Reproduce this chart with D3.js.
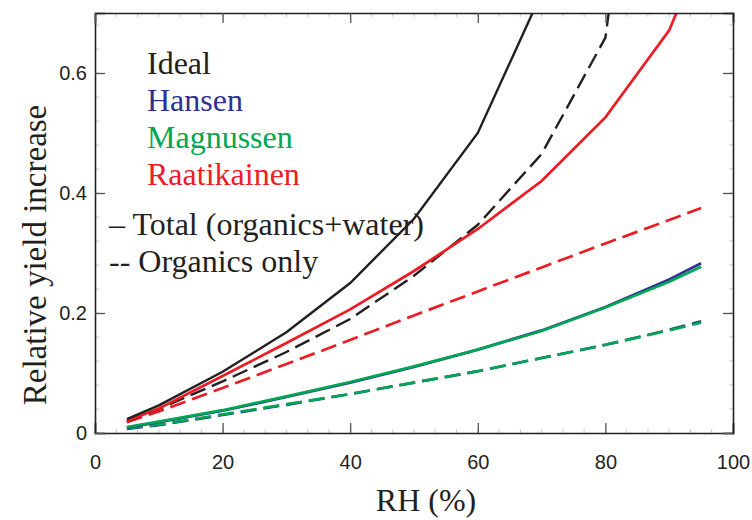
<!DOCTYPE html>
<html>
<head>
<meta charset="utf-8">
<script src="https://cdn.jsdelivr.net/npm/d3@7"></script>
<style>
  body { margin: 0; background: #fff; }
  svg { display: block; }
</style>
</head>
<body>
<div id="chart"></div>
<script>
// RH values (%) where the curves were computed
var rh = [5, 10, 20, 30, 40, 50, 60, 70, 80, 90, 95]

// relative yield increase
var idealTotal    = [0.023, 0.046, 0.102, 0.168, 0.250, 0.357, 0.500, 0.733, 1.05, 1.4, 1.6]
var idealOrganics = [0.019, 0.040, 0.086, 0.135, 0.190, 0.262, 0.347, 0.465, 0.659, 1.45, 1.7]
var hansenTotal    = [0.009, 0.018, 0.037, 0.060, 0.084, 0.110, 0.139, 0.171, 0.210, 0.256, 0.283]
var hansenOrganics = [0.007, 0.013, 0.030, 0.047, 0.065, 0.084, 0.103, 0.125, 0.147, 0.172, 0.186]
var magnussenTotal    = [0.010, 0.019, 0.038, 0.061, 0.085, 0.111, 0.139, 0.170, 0.209, 0.252, 0.277]
var magnussenOrganics = [0.008, 0.014, 0.031, 0.048, 0.065, 0.084, 0.103, 0.125, 0.147, 0.171, 0.184]
var raatTotal    = [0.020, 0.041, 0.095, 0.150, 0.206, 0.270, 0.340, 0.420, 0.526, 0.671, 0.80]
var raatOrganics = [0.018, 0.036, 0.075, 0.115, 0.155, 0.196, 0.236, 0.276, 0.316, 0.355, 0.375]

var xTicks = [0, 20, 40, 60, 80, 100]
var yTicks = [0, 0.2, 0.4, 0.6]

var legendNames = ["Ideal", "Hansen", "Magnussen", "Raatikainen"]
var legendStyles = ["– Total (organics+water)", "-- Organics only"]

var colors = {
  Ideal: "#231f20",
  Hansen: "#2e3192",
  Magnussen: "#00a651",
  Raatikainen: "#ed1c24"
}

var series = [
  {name: "Raatikainen", kind: "organics", values: raatOrganics},
  {name: "Hansen", kind: "organics", values: hansenOrganics},
  {name: "Magnussen", kind: "organics", values: magnussenOrganics},
  {name: "Ideal", kind: "organics", values: idealOrganics},
  {name: "Hansen", kind: "total", values: hansenTotal},
  {name: "Magnussen", kind: "total", values: magnussenTotal},
  {name: "Raatikainen", kind: "total", values: raatTotal},
  {name: "Ideal", kind: "total", values: idealTotal}
]

var width = 752, height = 520
var margin = {top: 13, right: 19, bottom: 87, left: 95}
var ink = "#231f20"
var serif = "Liberation Serif, Times New Roman, serif"

var svg = d3.select("#chart").append("svg")
    .attr("width", width)
    .attr("height", height)

var x = d3.scaleLinear()
    .domain([0, 100])
    .range([margin.left, width - margin.right])

var y = d3.scaleLinear()
    .domain([0, 0.7])
    .range([height - margin.bottom, margin.top])

svg.append("clipPath").attr("id", "plotclip")
  .append("rect")
    .attr("x", x(0)).attr("y", y(0.7))
    .attr("width", x(100) - x(0)).attr("height", y(0) - y(0.7))

// minor ticks, very faint
var xMinor = d3.range(0, 100.01, 20 / 6)
var yMinor = d3.range(0, 0.701, 0.04)
var minor = svg.append("g").attr("stroke", "#c8c8c8").attr("stroke-width", 1)
minor.selectAll(".mxb").data(xMinor).join("line")
    .attr("x1", d => x(d)).attr("x2", d => x(d))
    .attr("y1", y(0)).attr("y2", y(0) - 4)
minor.selectAll(".mxt").data(xMinor).join("line")
    .attr("x1", d => x(d)).attr("x2", d => x(d))
    .attr("y1", y(0.7)).attr("y2", y(0.7) + 4)
minor.selectAll(".myl").data(yMinor).join("line")
    .attr("y1", d => y(d)).attr("y2", d => y(d))
    .attr("x1", x(0)).attr("x2", x(0) + 4)
minor.selectAll(".myr").data(yMinor).join("line")
    .attr("y1", d => y(d)).attr("y2", d => y(d))
    .attr("x1", x(100)).attr("x2", x(100) - 4)

// curves
var line = d3.line()
    .x((d, i) => x(rh[i]))
    .y(d => y(d))

svg.append("g")
    .attr("clip-path", "url(#plotclip)")
  .selectAll("path")
  .data(series)
  .join("path")
    .attr("fill", "none")
    .attr("stroke", d => colors[d.name])
    .attr("stroke-width", d => d.name === "Ideal" ? 2.4 : 2.7)
    .attr("stroke-dasharray", d => d.kind === "organics" ? "16,7" : null)
    .attr("d", d => line(d.values))

// axes: bottom/left with labels, top/right ticks only, all ticks inward
var xAxis = svg.append("g")
    .attr("transform", `translate(0,${y(0)})`)
    .call(d3.axisBottom(x).tickValues(xTicks).tickSize(-10).tickPadding(22).tickFormat(d3.format("d")))
var yAxis = svg.append("g")
    .attr("transform", `translate(${x(0)},0)`)
    .call(d3.axisLeft(y).tickValues(yTicks).tickSize(-10).tickPadding(8).tickFormat(d => d === 0 ? "0" : d3.format(".1f")(d)))
var xTop = svg.append("g")
    .attr("transform", `translate(0,${y(0.7)})`)
    .call(d3.axisTop(x).tickValues(xTicks).tickSize(-10).tickFormat(""))
var yRight = svg.append("g")
    .attr("transform", `translate(${x(100)},0)`)
    .call(d3.axisRight(y).tickValues(yTicks).tickSize(-10).tickFormat(""))

;[xAxis, yAxis, xTop, yRight].forEach(g => {
  g.select(".domain").attr("stroke", ink).attr("stroke-width", 1.6)
  g.selectAll(".tick line").attr("stroke", "#555").attr("stroke-width", 1.3)
  g.selectAll(".tick text")
    .attr("fill", ink)
    .attr("font-family", "Liberation Sans, Arial, sans-serif")
    .attr("font-size", 20)
})

// axis titles
svg.append("text")
    .attr("x", 426)
    .attr("y", 511)
    .attr("text-anchor", "middle")
    .attr("font-family", serif)
    .attr("font-size", 32)
    .attr("fill", ink)
    .text("RH (%)")

svg.append("text")
    .attr("transform", "translate(46,255) rotate(-90)")
    .attr("text-anchor", "middle")
    .attr("font-family", serif)
    .attr("font-size", 33)
    .attr("fill", ink)
    .text("Relative yield increase")

// legend
var legend = svg.append("g")
    .attr("font-family", serif)
    .attr("font-size", 32)

legend.selectAll(".name")
  .data(legendNames)
  .join("text")
    .attr("x", 147)
    .attr("y", (d, i) => 73.5 + i * 37.2)
    .attr("fill", d => colors[d])
    .text(d => d)

legend.selectAll(".style")
  .data(legendStyles)
  .join("text")
    .attr("x", 109)
    .attr("y", (d, i) => 235 + i * 36.7)
    .attr("fill", ink)
    .text(d => d)
</script>
</body>
</html>
